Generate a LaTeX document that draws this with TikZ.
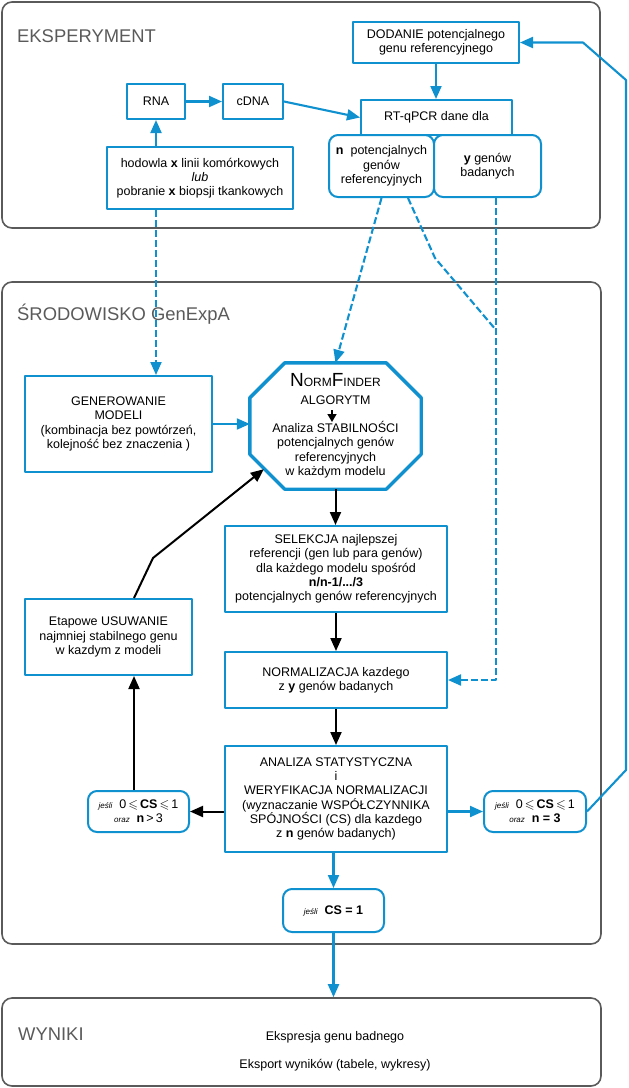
\documentclass[tikz,border=0pt]{standalone}
\usepackage{fontspec}
\setmainfont{Liberation Sans}
\usepackage{amssymb}
\usetikzlibrary{arrows.meta}
\newcommand{\warunek}[1]{{\fontsize{8}{9}\selectfont\itshape #1}}

\begin{document}
\begin{tikzpicture}[x=1pt, y=-1pt, line join=round,
		font=\fontsize{12.5}{14.3}\selectfont,
		box/.style={draw=genblue, line width=2pt, fill=white, align=center, inner sep=0pt},
		condbox/.style={box, rounded corners=9pt},
		frame/.style={draw=framegray, line width=1.6pt, rounded corners=10pt, inner sep=0pt},
		head/.style={text=framegray, font=\fontsize{18.4}{20}\selectfont, anchor=base west, inner sep=0pt},
		bluearrow/.style={draw=genblue, line width=2.1pt, -{Triangle[length=13pt,width=11pt]}},
		blkarrow/.style={draw=black, line width=2pt, -{Triangle[length=13pt,width=11pt]}},
		dashline/.style={draw=genblue, line width=2.1pt, dash pattern=on 7pt off 3pt},
		dasharrow/.style={dashline, -{Triangle[length=13pt,width=11pt]}}]
	\definecolor{genblue}{RGB}{16,145,207}
	\definecolor{framegray}{RGB}{90,90,90}
	\def\ch{35pt}
	\useasboundingbox (0,0) rectangle (629,1088);
	
	% ramki
	\node[frame, minimum width=598pt, minimum height=226pt] (eksp) at (301,115) {};
	\node[frame, minimum width=599pt, minimum height=662pt] (srod) at (301.5,613) {};
	\node[frame, minimum width=599pt, minimum height=88pt] (wyn) at (301.5,1042) {};
	\node[head] (eksplab) at (17,42) {EKSPERYMENT};
	\node[head] (srodlab) at (17,320) {ŚRODOWISKO GenExpA};
	\node[head] (wynlab) at (18,1040) {WYNIKI};
	
	% eksperyment
	\node[box, minimum width=58pt, minimum height=35pt] (rna) at (156,101.5) {RNA};
	\node[box, minimum width=60pt, minimum height=35pt] (cdna) at (253,101.5) {cDNA};
	\node[box, minimum width=186pt, minimum height=62pt] (hod) at (200,178) {hodowla \textbf{x} linii komórkowych\\ \textit{lub}\\ pobranie \textbf{x} biopsji tkankowych};
	\node[box, minimum width=166pt, minimum height=41pt] (dod) at (436,42.5) {DODANIE potencjalnego\\ genu referencyjnego};
	\node[condbox, minimum width=105pt, minimum height=62pt] (nref) at (381.5,166) {\textbf{n}\ \ potencjalnych\\ genów\\ referencyjnych};
	\node[condbox, minimum width=107pt, minimum height=62pt] (ybad) at (487.5,166) {\textbf{y} genów\\ badanych};
	\node[box, minimum width=151pt, minimum height=35pt] (rtq) at (436.5,117.5) {RT-qPCR dane dla};
	
	% srodowisko
	\node[box, minimum width=187pt, minimum height=96pt] (gen) at (118.5,424) {GENEROWANIE\\ MODELI\\ (kombinacja bez powtórzeń,\\ kolejność bez znaczenia )};
	\node[align=center, minimum width=171pt, minimum height=126pt, inner sep=0pt] (norm) at (335.5,426) {{\fontsize{19}{19}\selectfont N}{\fontsize{12}{14}\selectfont ORM}{\fontsize{19}{19}\selectfont F}{\fontsize{12}{14}\selectfont INDER}\\[3pt] ALGORYTM\\[14pt] Analiza STABILNOŚCI\\ potencjalnych genów\\ referencyjnych\\ w każdym modelu};
	\draw[genblue, line width=3.4pt] ([xshift=\ch]norm.north west) -- ([xshift=-\ch]norm.north east) -- ([yshift=-\ch]norm.north east)
		-- ([yshift=\ch]norm.south east) -- ([xshift=-\ch]norm.south east) -- ([xshift=\ch]norm.south west)
		-- ([yshift=\ch]norm.south west) -- ([yshift=-\ch]norm.north west) -- cycle;
	\draw[blkarrow, line width=1.5pt, -{Triangle[length=8pt,width=9pt]}] ([xshift=-3.5pt,yshift=16pt]norm.center) -- ([xshift=-3.5pt,yshift=4pt]norm.center);
	\node[box, minimum width=222pt, minimum height=86pt] (sel) at (336,569) {SELEKCJA najlepszej\\ referencji (gen lub para genów)\\ dla każdego modelu spośród\\ \textbf{n/n-1/.../3}\\ potencjalnych genów referencyjnych};
	\node[box, minimum width=222pt, minimum height=56pt] (norma) at (336,680) {NORMALIZACJA kazdego\\ z \textbf{y} genów badanych};
	\node[box, minimum width=222pt, minimum height=106pt] (anal) at (336,799) {ANALIZA STATYSTYCZNA\\ i\\ WERYFIKACJA NORMALIZACJI\\ (wyznaczanie WSPÓŁCZYNNIKA\\ SPÓJNOŚCI (CS) dla kazdego\\ z \textbf{n} genów badanych)};
	\node[box, minimum width=167pt, minimum height=76pt] (usun) at (108.5,637) {Etapowe USUWANIE\\ najmniej stabilnego genu\\ w kazdym z modeli};
	\node[condbox, minimum width=101pt, minimum height=41pt] (condl) at (138.5,811.5) {\warunek{jeśli}\ \ 0\,$\leqslant$\,\textbf{CS}\,$\leqslant$\,1\\ \warunek{oraz}\ \ \textbf{n}\,>\,3};
	\node[condbox, minimum width=102pt, minimum height=41pt] (condr) at (535,811.5) {\warunek{jeśli}\ \ 0\,$\leqslant$\,\textbf{CS}\,$\leqslant$\,1\\ \warunek{oraz}\ \ \textbf{n = 3}};
	\node[condbox, minimum width=101pt, minimum height=43pt] (csone) at (333.5,910.5) {\warunek{jeśli}\ \ \textbf{CS = 1}};
	
	% wyniki
	\node[anchor=base, inner sep=0pt] (ekspr) at (335,1040) {Ekspresja genu badnego};
	\node[anchor=base, inner sep=0pt] (ekspo) at (335,1068) {Eksport wyników (tabele, wykresy)};
	
	% polaczenia
	\coordinate (merge) at (496,330);
	\draw[bluearrow] (rna.east) -- (cdna.west);
	\draw[bluearrow] (rna.south |- hod.north) -- (rna.south);
	\draw[bluearrow] (cdna.east) -- (rtq.west);
	\draw[bluearrow] (dod.south) -- (dod.south |- rtq.north);
	\draw[dasharrow] (rna.south |- hod.south) -- (rna.south |- gen.north);
	\draw[dasharrow] (nref.south) -- (norm.north);
	\draw[dashline] ([xshift=26.5pt]nref.south) -- (435,258) -- (merge);
	\draw[dasharrow] ([xshift=8.5pt]ybad.south) |- (norma.east);
	\draw[bluearrow] (gen.east) -- (gen.east -| norm.west);
	\foreach \a/\b in {norm/sel, sel/norma, norma/anal}
		\draw[blkarrow] (\a.south) -- (\a.south |- \b.north);
	\draw[blkarrow] (anal.west |- condl.east) -- (condl.east);
	\draw[bluearrow] (anal.east |- condr.west) -- (condr.west);
	\draw[blkarrow] ([xshift=-4.5pt]condl.north) -- ([xshift=-4.5pt]condl.north |- usun.south);
	\draw[blkarrow] ([xshift=25.5pt]usun.north) -- (153,558) -- ([xshift=14pt,yshift=20pt]norm.south west);
	\draw[bluearrow] (csone.north |- anal.south) -- (csone.north);
	\draw[bluearrow] (csone.south) -- (csone.south |- wyn.north);
	\draw[bluearrow] (condr.east) -- (626,770) -- (626,80) -- (583,42.5) -- (dod.east);
\end{tikzpicture}
\end{document}
